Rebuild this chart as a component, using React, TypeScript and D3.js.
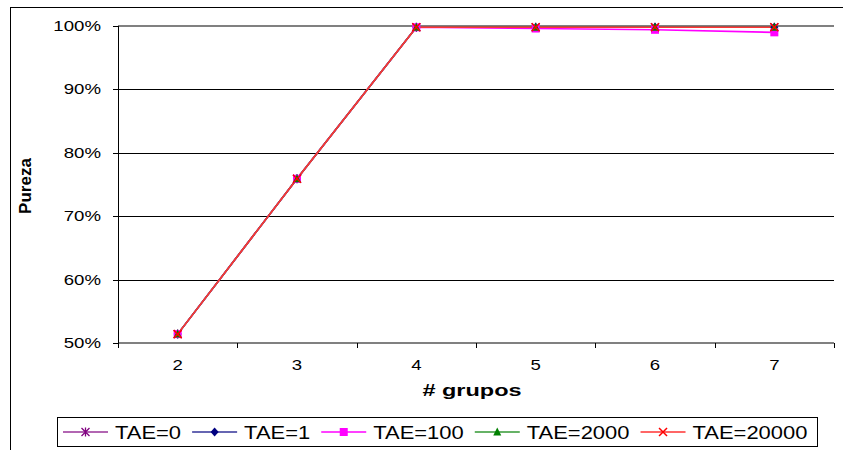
import React from "react";
import * as d3 from "d3";

const categories = ["2", "3", "4", "5", "6", "7"];
const seriesNames = ["TAE=0", "TAE=1", "TAE=100", "TAE=2000", "TAE=20000"];
const tae0 = [51.4, 75.9, 99.8, 99.8, 99.8, 99.8];
const tae1 = [51.4, 75.9, 99.8, 99.8, 99.8, 99.8];
const tae100 = [51.4, 75.9, 99.8, 99.6, 99.4, 99.0];
const tae2000 = [51.4, 75.9, 99.8, 99.8, 99.8, 99.8];
const tae20000 = [51.4, 75.9, 99.8, 99.8, 99.8, 99.8];
const yTicks = [50, 60, 70, 80, 90, 100];

const seriesValues = [tae0, tae1, tae100, tae2000, tae20000];
const lineColors = ["#993399", "#333399", "#FF00FF", "#339933", "#FF3333"];
const markerColors = ["#800080", "#000080", "#FF00FF", "#008000", "#FF0000"];
const markerTypes = ["star", "diamond", "square", "triangle", "cross"];

const FONT = "'Liberation Sans', Arial, sans-serif";

function measure(text: string, size: number, weight = "normal") {
  const c = document.createElement("canvas").getContext("2d");
  if (!c) return text.length * size * 0.55;
  c.font = `${weight} ${size}px 'Liberation Sans', Arial, sans-serif`;
  return c.measureText(text).width;
}

function Marker({ type, x, y, color }: { type: string; x: number; y: number; color: string }) {
  const s = 4;
  if (type === "square")
    return <rect x={x - s} y={y - s} width={2 * s} height={2 * s} fill={color} />;
  if (type === "diamond")
    return <path d={`M${x},${y - s - 0.5}L${x + s},${y}L${x},${y + s + 0.5}L${x - s},${y}Z`} fill={color} />;
  if (type === "triangle")
    return <path d={`M${x},${y - s - 0.5}L${x + s},${y + s - 0.5}L${x - s},${y + s - 0.5}Z`} fill={color} />;
  if (type === "cross")
    return (
      <path d={`M${x - s},${y - s}L${x + s},${y + s}M${x - s},${y + s}L${x + s},${y - s}`} stroke={color} strokeWidth={1.5} />
    );
  return (
    <path
      d={`M${x - s},${y - s}L${x + s},${y + s}M${x - s},${y + s}L${x + s},${y - s}M${x},${y - s - 0.5}L${x},${y + s + 0.5}`}
      stroke={color}
      strokeWidth={1.3}
    />
  );
}

export default function App() {
  const left = 118;
  const right = 834;
  const top = 26;
  const bottom = 343;
  const sx = 1.33;

  const x = d3.scaleBand<string>().domain(categories).range([left, right]);
  const y = d3.scaleLinear().domain([50, 100]).range([bottom, top]);
  const cx = (c: string) => (x(c) as number) + x.bandwidth() / 2;

  const line = d3
    .line<number>()
    .x((_, i) => cx(categories[i]))
    .y((d) => y(d));

  const legSx = 1.22;
  const legFont = 18;
  let lx = 63;
  const legendItems = seriesNames.map((name, i) => {
    const w = measure(name, legFont) * legSx;
    const item = { name, i, lx, tx: lx + 52 };
    lx = lx + 52 + w + 11;
    return item;
  });

  const boundaries = d3.range(categories.length + 1).map((i) => left + i * x.bandwidth());

  return (
    <svg
      width={843}
      height={450}
      style={{ position: "absolute", left: 0, top: 0, display: "block", background: "#fff" }}
      fontFamily={FONT}
    >
      <rect x={0} y={0} width={843} height={450} fill="#fff" />
      <rect x={10.5} y={7.5} width={900} height={600} fill="none" stroke="#000" strokeWidth={1} />

      {yTicks
        .filter((t) => t !== 50 && t !== 100)
        .map((t) => (
          <line key={t} x1={left} x2={right} y1={Math.round(y(t)) + 0.5} y2={Math.round(y(t)) + 0.5} stroke="#000" strokeWidth={1} />
        ))}
      <line x1={left} x2={right} y1={y(100)} y2={y(100)} stroke="#808080" strokeWidth={2} />

      <line x1={left} x2={right} y1={y(50)} y2={y(50)} stroke="#808080" strokeWidth={2} />
      {boundaries.map((b, i) => (
        <line key={i} x1={Math.round(b) + 0.5} x2={Math.round(b) + 0.5} y1={y(50)} y2={y(50) + 5} stroke="#000" strokeWidth={1} />
      ))}
      {categories.map((c) => (
        <text
          key={c}
          transform={`translate(${cx(c)},370) scale(${sx},1)`}
          textAnchor="middle"
          fontSize={14}
          fill="#000"
        >
          {c}
        </text>
      ))}

      <line x1={left + 0.5} x2={left + 0.5} y1={y(100)} y2={y(50)} stroke="#000" strokeWidth={1} />
      {yTicks.map((t) => (
        <g key={t}>
          <line x1={left - 5} x2={left} y1={Math.round(y(t)) + 0.5} y2={Math.round(y(t)) + 0.5} stroke="#000" />
          <text
            transform={`translate(101,${y(t) + 5}) scale(${sx},1)`}
            textAnchor="end"
            fontSize={14}
            fill="#000"
          >
            {t}%
          </text>
        </g>
      ))}

      <text
        transform={`translate(31,186) rotate(-90)`}
        textAnchor="middle"
        fontSize={17}
        fontWeight="bold"
        fill="#000"
      >
        Pureza
      </text>
      <text
        transform={`translate(472,396) scale(1.38,1)`}
        textAnchor="middle"
        fontSize={17}
        fontWeight="bold"
        fill="#000"
      >
        # grupos
      </text>

      {seriesValues.map((vals, si) => (
        <path key={si} d={line(vals) || ""} fill="none" stroke={lineColors[si]} strokeWidth={1.6} />
      ))}
      {seriesValues.map((vals, si) => (
        <g key={"m" + si}>
          {vals.map((v, i) => (
            <Marker key={i} type={markerTypes[si]} x={cx(categories[i])} y={y(v)} color={markerColors[si]} />
          ))}
        </g>
      ))}

      <rect x={57.5} y={417.5} width={760} height={29} fill="#fff" stroke="#000" strokeWidth={1} />
      {legendItems.map((it) => (
        <g key={it.name}>
          <line x1={it.lx} x2={it.lx + 45} y1={432} y2={432} stroke={lineColors[it.i]} strokeWidth={1.3} />
          <Marker type={markerTypes[it.i]} x={it.lx + 22.5} y={432} color={markerColors[it.i]} />
          <text
            transform={`translate(${it.tx},438.5) scale(${legSx},1)`}
            fontSize={legFont}
            fill="#000"
          >
            {it.name}
          </text>
        </g>
      ))}
    </svg>
  );
}
